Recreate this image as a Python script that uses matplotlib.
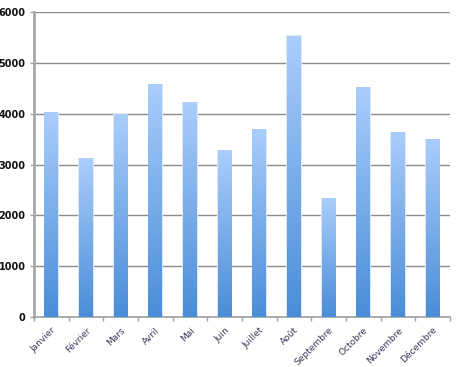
import numpy as np
import matplotlib as mpl
mpl.use("Agg")
import matplotlib.pyplot as plt
from matplotlib.colors import LinearSegmentedColormap

months = ["Janvier", "Février", "Mars", "Avril", "Mai", "Juin", "Juillet",
          "Août", "Septembre", "Octobre", "Novembre", "Décembre"]
values = [4030, 3120, 3980, 4570, 4220, 3280, 3685, 5530, 2330, 4510, 3630, 3490]
yticks = [0, 1000, 2000, 3000, 4000, 5000, 6000]

fig = plt.figure(figsize=(4.6, 3.67), dpi=100)
ax = fig.add_axes([0.074, 0.136, 0.904, 0.8305])

# gradient from dark blue (bottom) to light blue (top)
cmap = LinearSegmentedColormap.from_list("bar", ["#4a8dd8", "#aacdfc"])
grad = np.linspace(0, 1, 256).reshape(-1, 1)

x = np.arange(len(months))
bars = ax.bar(x, values, width=0.4, color="none", edgecolor="none", zorder=3)
for b in bars:
    x0, w, h = b.get_x(), b.get_width(), b.get_height()
    # soft halo around the bar
    ax.add_patch(plt.Rectangle((x0 - 0.02, 0), w + 0.04, h + 15, color="#dce8f7", zorder=2.5, lw=0))
    ax.imshow(grad, extent=[x0, x0 + w, 0, h], origin="lower", cmap=cmap,
              aspect="auto", zorder=3, interpolation="bicubic")

ax.set_xlim(-0.5, len(months) - 0.5)
ax.set_ylim(0, 6000)
ax.set_yticks(yticks)
ax.set_yticklabels([str(t) for t in yticks], fontsize=7, fontweight="bold", color="#111111")

ax.set_xticks(x)
ax.set_xticklabels(months, rotation=45, ha="right", rotation_mode="anchor",
                   fontsize=6.5, color="#3a3a5a")
ax.set_xticks(np.arange(-0.5, len(months)), minor=True)
ax.tick_params(axis="x", which="major", length=0, pad=6)
ax.tick_params(axis="x", which="minor", length=3, color="#a0a0a0", width=1)
ax.tick_params(axis="y", length=3, color="#a0a0a0", width=1, pad=3)

ax.grid(axis="y", color="#8c8c8c", linewidth=1)
ax.set_axisbelow(True)
for s in ["top", "right"]:
    ax.spines[s].set_visible(False)
ax.spines["left"].set_color("#a8a8a8")
ax.spines["left"].set_linewidth(2)
ax.spines["bottom"].set_color("#a0a0a0")
ax.spines["bottom"].set_linewidth(1.2)

fig.savefig("out.png", dpi=100)
